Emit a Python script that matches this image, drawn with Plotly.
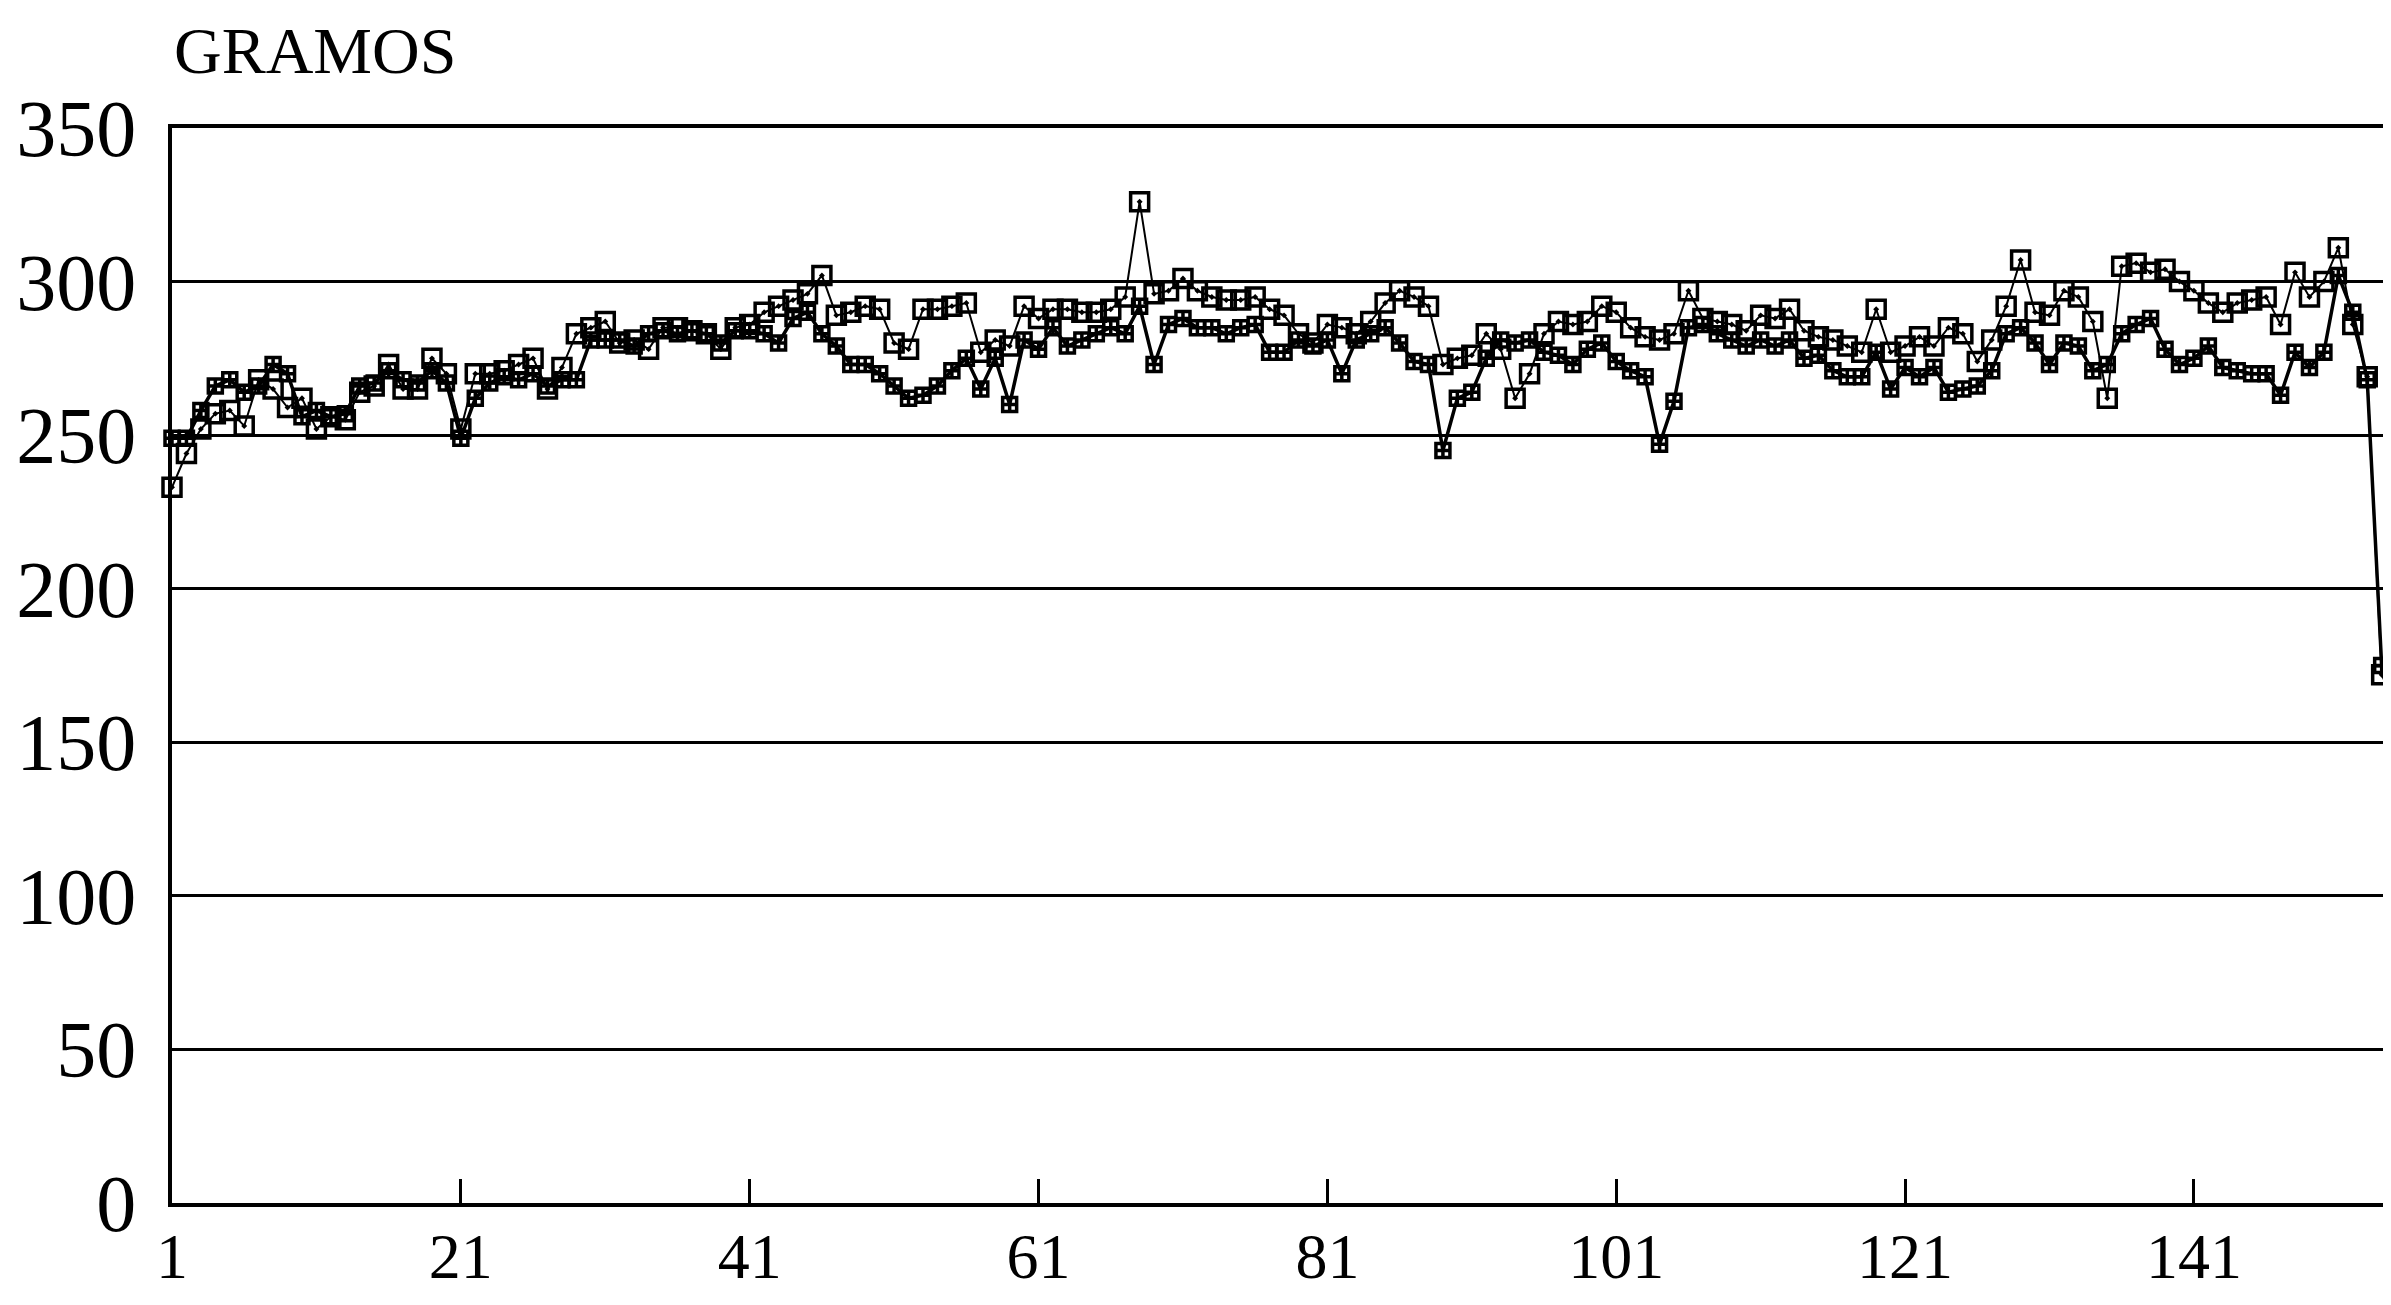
import plotly.graph_objects as go

# x categories (sample number)
x_vals = list(range(1, 157))

# Series A: open squares, thin line
serie_a = [233, 244, 252, 257, 258, 253, 268, 265, 259, 262,
           252, 256, 255, 264, 266, 273, 265, 265, 275, 270,
           252, 270, 270, 271, 273, 275, 265, 272, 283, 285,
           287, 280, 281, 278, 285, 285, 284, 283, 278, 285,
           286, 290, 292, 294, 296, 302, 289, 290, 292, 291,
           280, 278, 291, 291, 292, 293, 277, 281, 279, 292,
           288, 291, 291, 290, 290, 291, 295, 326, 296, 297,
           301, 297, 295, 294, 294, 295, 291, 289, 283, 280,
           286, 285, 283, 287, 293, 297, 295, 292, 273, 275,
           276, 283, 278, 262, 270, 283, 287, 286, 287, 292,
           290, 285, 282, 281, 283, 297, 288, 287, 286, 284,
           289, 288, 291, 284, 282, 281, 279, 277, 291, 277,
           279, 282, 279, 285, 283, 274, 281, 292, 307, 290,
           289, 297, 295, 287, 262, 305, 306, 303, 304, 300,
           297, 293, 290, 293, 294, 295, 286, 303, 295, 300,
           311, 286, 269, 172, 162, 205]

# Series B: dense crossed markers, heavier line
serie_b = [249, 249, 258, 266, 268, 264, 266, 273, 270, 256,
           258, 256, 257, 266, 267, 271, 268, 267, 271, 267,
           249, 262, 267, 269, 268, 270, 266, 268, 268, 281,
           281, 281, 279, 283, 284, 283, 284, 283, 280, 284,
           284, 283, 280, 288, 290, 283, 279, 273, 273, 270,
           266, 262, 263, 266, 271, 275, 265, 275, 260, 281,
           278, 285, 279, 281, 283, 285, 283, 292, 273, 286,
           288, 285, 285, 283, 285, 286, 277, 277, 281, 279,
           281, 270, 281, 283, 285, 280, 274, 273, 245, 262,
           264, 275, 281, 280, 281, 277, 276, 273, 278, 280,
           274, 271, 269, 247, 261, 285, 286, 283, 281, 279,
           281, 279, 281, 275, 276, 271, 269, 269, 277, 265,
           272, 269, 272, 264, 265, 266, 271, 283, 285, 280,
           273, 280, 279, 271, 273, 283, 286, 288, 278, 273,
           275, 279, 272, 271, 270, 270, 263, 277, 272, 277,
           302, 290, 268, 175, 163, 250]

x_ticks = [1, 21, 41, 61, 81, 101, 121, 141]
y_ticks = [0, 50, 100, 150, 200, 250, 300, 350]
y_title = "GRAMOS"

FONT = "Liberation Serif"

fig = go.Figure()
fig.add_trace(go.Scatter(
    x=x_vals, y=serie_b, mode="lines+markers",
    line=dict(color="black", width=3.5),
    marker=dict(symbol="square-cross-open", size=14, color="black",
                line=dict(color="black", width=3.5)),
    cliponaxis=False, showlegend=False))
fig.add_trace(go.Scatter(
    x=x_vals, y=serie_a, mode="lines+markers",
    line=dict(color="black", width=2),
    marker=dict(symbol="square-open-dot", size=18, color="black",
                line=dict(color="black", width=3.5)),
    cliponaxis=False, showlegend=False))

fig.update_layout(
    width=2391, height=1305,
    margin=dict(l=164, r=0, t=120, b=110),
    paper_bgcolor="white", plot_bgcolor="white",
    font=dict(family=FONT, color="black"),
    xaxis=dict(range=[1, 155.2], tickvals=x_ticks,
               ticktext=[str(v) for v in x_ticks],
               ticks="inside", ticklen=24, tickwidth=2.5, tickcolor="black",
               showgrid=False, zeroline=False, automargin=False,
               showline=True, linecolor="black", linewidth=3.5, mirror=True,
               tickfont=dict(family=FONT, size=64, color="black"),
               ticklabelstandoff=-6),
    yaxis=dict(range=[0, 350], tickvals=y_ticks,
               ticktext=[str(v) for v in y_ticks],
               ticks="", showgrid=True, gridcolor="black", gridwidth=3,
               zeroline=False, showline=True, linecolor="black", linewidth=3.5,
               automargin=False,
               tickfont=dict(family=FONT, size=80, color="black"),
               ticklabelstandoff=16),
    annotations=[dict(text=y_title, xref="paper", yref="paper",
                      x=0.0, y=1.072, xanchor="left", yanchor="middle",
                      showarrow=False,
                      font=dict(family=FONT, size=66, color="black"))],
)

fig.write_html("out.html")
